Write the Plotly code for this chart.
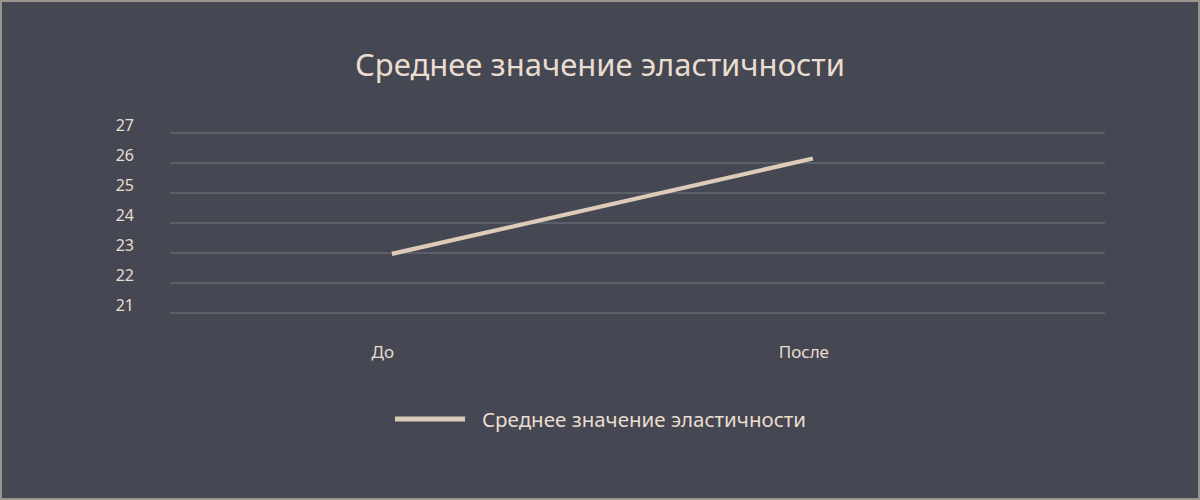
import plotly.graph_objects as go

# data
categories = ['До', 'После']
values = [22.97, 26.15]
series_name = 'Среднее значение эластичности'
y_ticks = [21, 22, 23, 24, 25, 26, 27]

bg = '#454752'
cream = '#e9ddd0'
line_col = '#dccbb8'
grid_col = '#5c5e68'
font = 'Noto Sans, Open Sans, sans-serif'

# plot area in pixels; y range padded by 0.1 so the edge gridlines are drawn
L, R, T, B = 170, 95, 130, 184
pw, ph = 1200 - L - R, 500 - T - B

def px_x(v):
    return (v - L) / pw

def px_y(v):
    return (500 - B - v) / ph

fig = go.Figure()
fig.add_trace(go.Scatter(x=[0, 1], y=values, mode='lines', name=series_name,
                         line=dict(color=line_col, width=4.2), showlegend=False))

fig.update_layout(
    width=1200, height=500,
    paper_bgcolor=bg, plot_bgcolor=bg,
    margin=dict(l=L, r=R, t=T, b=B),
    font=dict(family=font, color=cream),
    title=dict(text=series_name, x=0.5, xanchor='center', y=0.87, yanchor='middle',
               font=dict(size=31, color=cream, family=font)),
    showlegend=False,
)

# legend drawn by hand so the sample line is as long as in the original
fig.add_shape(type='line', xref='paper', yref='paper',
              x0=px_x(395), x1=px_x(465), y0=px_y(419), y1=px_y(419),
              line=dict(color=line_col, width=5))
fig.add_annotation(text=series_name, xref='paper', yref='paper',
                   x=px_x(480), y=px_y(419), xanchor='left', yanchor='middle',
                   showarrow=False, font=dict(size=20.5, color=cream))
# thin frame round the whole picture
fig.add_shape(type='rect', xref='paper', yref='paper',
              x0=px_x(1), x1=px_x(1199), y0=px_y(499), y1=px_y(1),
              line=dict(color='#9a948e', width=2))

fig.update_xaxes(range=[-0.527, 1.694], tickvals=[0, 1], ticktext=categories,
                 showgrid=False, zeroline=False, showline=False,
                 tickfont=dict(size=17, color=cream),
                 ticks='', ticklabelstandoff=24, ticklabelshift=-9)
fig.update_yaxes(range=[20.9, 27.1], tickvals=y_ticks,
                 showgrid=True, gridcolor=grid_col, gridwidth=1.5,
                 zeroline=False, showline=False, ticks='',
                 tickfont=dict(size=16, color=cream),
                 ticklabelstandoff=35, ticklabelshift=-8)

fig.write_html("out.html", config={'displayModeBar': False},
               post_script="document.body.style.margin='0';")
